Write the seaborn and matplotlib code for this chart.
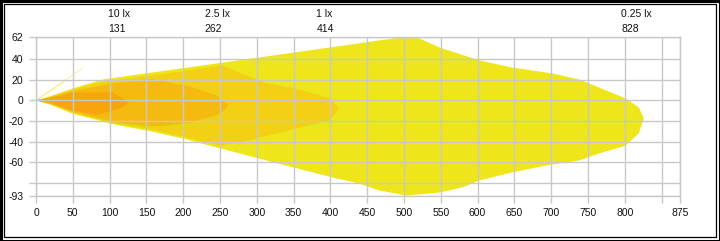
import matplotlib
matplotlib.use("Agg")
import matplotlib.pyplot as plt
import seaborn as sns
from matplotlib.patches import Rectangle

# ---- data (distance in m, lateral offset in m) ----
iso_025_x = [0, 19, 50, 91, 439, 466, 500, 517, 548, 602, 647, 701, 738, 801, 819, 826,
             819, 801, 765, 738, 693, 647, 602, 579, 548, 503, 466, 439, 403, 313, 199, 155, 100, 83, 50, 19]
iso_025_y = [0, 4, 11.7, 20.4, 55.5, 58.4, 61.5, 61.5, 51.6, 39, 32, 26.3, 20.4, 2, -6.8, -17.5,
             -32, -44, -51.6, -58.4, -63.3, -70, -78, -84.7, -89.6, -92.5, -87.6, -80.8, -75, -58.4, -37, -30, -22.5, -19, -13, -4]

iso_1_x = [0, 19, 50, 91, 164, 254, 308, 358, 399, 412, 399, 344, 277, 249, 199, 155, 100, 83, 50, 19]
iso_1_y = [0, 3.5, 10.5, 18, 25, 34, 17.5, 10.7, 1.9, -7.8, -19.5, -29.2, -40.9, -44, -35, -28, -21.5, -18, -12, -3.5]

iso_25_x = [0, 19, 50, 100, 155, 209, 245, 262, 249, 209, 164, 114, 83, 50, 19]
iso_25_y = [0, 3, 9, 16, 21, 13.6, 5, -5, -13.6, -21.4, -25.5, -22, -17, -11, -3]

iso_10_x = [0, 19, 50, 104, 127, 114, 83, 50, 19]
iso_10_y = [0, 2.5, 7.5, 8, -2, -8, -14, -10, -2.5]

spike_x = [[0, 37], [0, 64]]
spike_y = [[0, 17.5], [0, 32]]

iso_labels = ["10 lx", "2.5 lx", "1 lx", "0.25 lx"]
iso_ranges = [131, 262, 414, 828]

x_ticks = [0, 50, 100, 150, 200, 250, 300, 350, 400, 450, 500, 550, 600, 650, 700, 750, 800, 850, 875]
x_ticklabels = ["0", "50", "100", "150", "200", "250", "300", "350", "400", "450", "500", "550",
                "600", "650", "700", "750", "800", "", "875"]
y_ticks = [62, 40, 20, 0, -20, -40, -60, -80, -93]
y_ticklabels = ["62", "40", "20", "0", "-20", "-40", "-60", "", "-93"]

colors = {"0.25": "#EEE61A", "1": "#F3CF15", "2.5": "#F5BA10", "10": "#F6A60C"}

sns.set_theme(style="white")
plt.rcParams["font.family"] = ["Liberation Sans", "DejaVu Sans"]

fig = plt.figure(figsize=(7.2, 2.41), dpi=100)
ax = fig.add_axes([36 / 720, 1 - 196 / 241, 644 / 720, (196 - 36.7) / 241])

ax.fill(iso_025_x, iso_025_y, color=colors["0.25"], lw=0, zorder=1)
ax.fill(iso_1_x, iso_1_y, color=colors["1"], lw=0, zorder=1.1)
ax.fill(iso_25_x, iso_25_y, color=colors["2.5"], lw=0, zorder=1.2)
ax.fill(iso_10_x, iso_10_y, color=colors["10"], lw=0, zorder=1.3)
for sx, sy in zip(spike_x, spike_y):
    sns.lineplot(x=sx, y=sy, ax=ax, color="#EEE61A", lw=0.7, alpha=0.45, zorder=1.4)

ax.set_xlim(0, 875)
ax.set_ylim(-93, 62)
ax.set_xticks(x_ticks)
ax.set_xticklabels(x_ticklabels)
ax.set_yticks(y_ticks)
ax.set_yticklabels(y_ticklabels)
ax.grid(True, color="#C8C8C8", lw=1)
ax.set_axisbelow(False)
ax.tick_params(axis="both", length=5, width=1, color="#C8C8C8", labelsize=7.5,
               labelcolor="#111111", pad=4, direction="out", left=True, bottom=True)
for s in ax.spines.values():
    s.set_color("#C8C8C8")
    s.set_linewidth(1)

for lab, rng in zip(iso_labels, iso_ranges):
    ax.text(rng - 33, 84, lab, ha="left", va="center", fontsize=7.5, color="#111111", clip_on=False)
    ax.text(rng - 33, 69.5, str(rng), ha="left", va="center", fontsize=7.5, color="#111111", clip_on=False)

# double frame around the whole picture
fig.patches.append(Rectangle((0.5 / 720, 0.5 / 241), 719 / 720, 240 / 241, transform=fig.transFigure,
                             fill=False, ec="black", lw=2.2))
fig.patches.append(Rectangle((4 / 720, 4 / 241), 712 / 720, 233 / 241, transform=fig.transFigure,
                             fill=False, ec="black", lw=0.9))

fig.savefig("out.png", dpi=100)
